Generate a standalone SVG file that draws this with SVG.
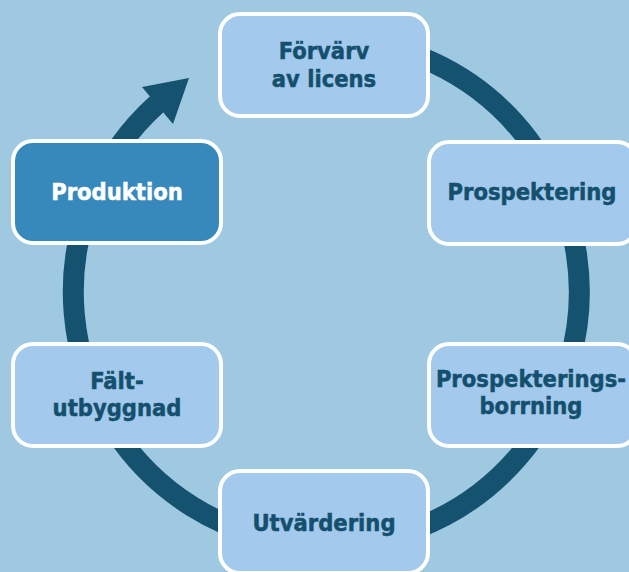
<svg xmlns="http://www.w3.org/2000/svg" width="629" height="572" viewBox="0 0 629 572">
<style>
.box{fill:#a3caed;stroke:#ffffff;stroke-width:4}
.dark{fill:#3889bb;stroke:#ffffff;stroke-width:4}
.t{font-family:"DejaVu Sans Condensed","DejaVu Sans","Liberation Sans",sans-serif;font-stretch:condensed;font-weight:bold;font-size:23.5px;fill:#14506e;stroke:#14506e;stroke-width:0.5;text-anchor:middle}
.tw{fill:#ffffff;stroke:#ffffff}
.ring{fill:none;stroke:#14526f;stroke-width:21}
</style>
<rect x="0" y="0" width="629" height="572" fill="#9ec9e1"/>
<g id="connectors">
<path class="ring" d="M 326 39 A 253 253 0 1 1 157 104"/>
<polygon points="189,78 142,87 173,124" fill="#14526f"/>
</g>
<g id="forvarv">
<rect class="box" x="220" y="14" width="208" height="102" rx="20"/>
<text class="t" x="324" y="59">Förvärv</text>
<text class="t" x="324" y="87">av licens</text>
</g>
<g id="prospektering">
<rect class="box" x="429" y="142" width="208" height="102" rx="20"/>
<text class="t" x="532" y="200">Prospektering</text>
</g>
<g id="produktion">
<rect class="dark" x="13" y="141" width="208" height="102" rx="20"/>
<text class="t tw" x="117" y="200">Produktion</text>
</g>
<g id="faltutbyggnad">
<rect class="box" x="13" y="344" width="208" height="102" rx="20"/>
<text class="t" x="117" y="389">Fält-</text>
<text class="t" x="117" y="416">utbyggnad</text>
</g>
<g id="prospekteringsborrning">
<rect class="box" x="429" y="344" width="208" height="102" rx="20"/>
<text class="t" x="531" y="387">Prospekterings-</text>
<text class="t" x="531" y="414">borrning</text>
</g>
<g id="utvardering">
<rect class="box" x="220" y="471" width="208" height="102" rx="20"/>
<text class="t" x="324" y="531">Utvärdering</text>
</g>
</svg>
